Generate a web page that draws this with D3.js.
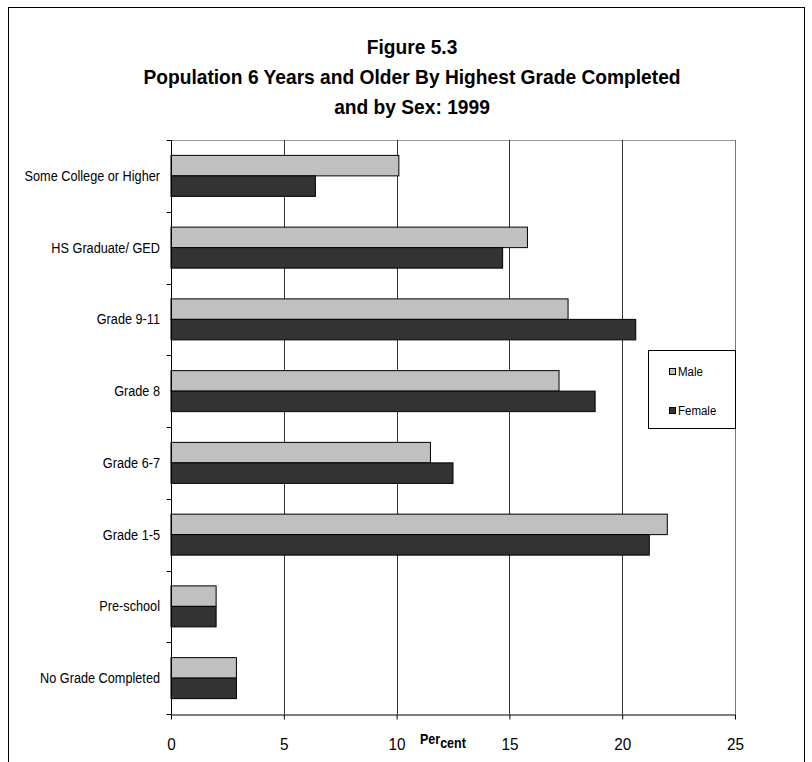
<!DOCTYPE html>
<html>
<head>
<meta charset="utf-8">
<script src="https://cdn.jsdelivr.net/npm/d3@7"></script>
<style>
  html, body { margin: 0; padding: 0; background: #fff; }
  svg { display: block; }
  text { font-family: "Liberation Sans", Arial, sans-serif; fill: #000; }
</style>
</head>
<body>
<svg id="chart" width="812" height="762"></svg>
<script>
const categories = ["Some College or Higher", "HS Graduate/ GED", "Grade 9-11", "Grade 8",
                    "Grade 6-7", "Grade 1-5", "Pre-school", "No Grade Completed"];
const series = ["Male", "Female"];
const maleValues   = [10.1, 15.8, 17.6, 17.2, 11.5, 22.0, 2.0, 2.9];
const femaleValues = [6.4, 14.7, 20.6, 18.8, 12.5, 21.2, 2.0, 2.9];
const xTicks = [0, 5, 10, 15, 20, 25];
const titleLines = ["Figure 5.3", "Population 6 Years and Older By Highest Grade Completed", "and by Sex: 1999"];
const colors = { Male: "#c0c0c0", Female: "#333333" };

const data = categories.map((c, i) => ({ cat: c, Male: maleValues[i], Female: femaleValues[i] }));

const svg = d3.select("#chart");
const pLeft = 171, pRight = 735, pTop = 140, pBottom = 714;
const stretch = 1.1;

const x = d3.scaleLinear().domain([0, 25]).range([pLeft, pRight]);
const y = d3.scaleBand().domain(categories).range([pTop, pBottom]).padding(0);
const ys = d3.scaleBand().domain(series).range([0, y.bandwidth()]).paddingInner(0).paddingOuter(0.75);

// outer frame
svg.append("rect").attr("x", 8.5).attr("y", 7.5).attr("width", 796).attr("height", 820)
  .attr("fill", "none").attr("stroke", "#000").attr("stroke-width", 1);

// title
svg.append("g").selectAll("text").data(titleLines).join("text")
  .attr("transform", (d, i) => `translate(412,${54 + i * 30}) scale(1,1.07)`)
  .attr("text-anchor", "middle").attr("font-weight", "bold").attr("font-size", 19.2)
  .text(d => d);

// plot border top
svg.append("line").attr("x1", pLeft).attr("x2", pRight).attr("y1", pTop + 0.5).attr("y2", pTop + 0.5)
  .attr("stroke", "#999");
// gridlines
svg.append("g").selectAll("line").data(xTicks.filter(t => t > 0)).join("line")
  .attr("x1", d => Math.round(x(d)) + 0.5).attr("x2", d => Math.round(x(d)) + 0.5)
  .attr("y1", pTop).attr("y2", pBottom)
  .attr("stroke", d => d === 25 ? "#777" : "#333").attr("stroke-width", 1);

// bars
const groups = svg.append("g").selectAll("g").data(data).join("g")
  .attr("transform", d => `translate(0,${y(d.cat)})`);
groups.selectAll("rect").data(d => series.map(s => ({ s, v: d[s] }))).join("rect")
  .attr("x", x(0))
  .attr("y", d => ys(d.s))
  .attr("width", d => x(d.v) - x(0))
  .attr("height", ys.bandwidth())
  .attr("fill", d => colors[d.s])
  .attr("stroke", "#000").attr("stroke-width", 1);

// y axis
const yAxisG = svg.append("g").attr("transform", `translate(${pLeft + 0.5},0)`);
yAxisG.append("line").attr("x1", 0).attr("x2", 0).attr("y1", pTop).attr("y2", pBottom).attr("stroke", "#000");
const bounds = categories.map(c => y(c)).concat([pBottom]);
yAxisG.selectAll("line.tk").data(bounds).join("line").attr("class", "tk")
  .attr("x1", -5).attr("x2", 0).attr("y1", d => Math.round(d) + 0.5).attr("y2", d => Math.round(d) + 0.5)
  .attr("stroke", "#000");
svg.append("g").selectAll("text").data(categories).join("text")
  .attr("transform", d => `translate(160,${y(d) + y.bandwidth() / 2}) scale(1,${stretch})`)
  .attr("dy", "0.35em").attr("text-anchor", "end").attr("font-size", 12.7)
  .text(d => d);

// x axis
const xAxis = d3.axisBottom(x).tickValues(xTicks).tickSize(5).tickSizeOuter(0);
const xg = svg.append("g").attr("transform", `translate(0,${pBottom + 0.5})`).call(xAxis);
xg.select(".domain").attr("stroke", "#000");
xg.selectAll(".tick line").attr("stroke", "#000");
xg.selectAll(".tick text")
  .attr("y", null).attr("dy", null)
  .attr("transform", `translate(0,35) scale(1,${stretch})`)
  .attr("font-size", 15.3).attr("font-family", "Liberation Sans, Arial, sans-serif").attr("fill", "#000");

// x axis title
const xt = svg.append("text").attr("transform", `translate(420,744) scale(1,${stretch})`)
  .attr("font-weight", "bold").attr("font-size", 12.5);
xt.append("tspan").text("Per");
xt.append("tspan").attr("dy", 3.5).text("cent");

// legend
const lg = svg.append("g");
lg.append("rect").attr("x", 648.5).attr("y", 350.5).attr("width", 87).attr("height", 78)
  .attr("fill", "#fff").attr("stroke", "#000");
const li = lg.selectAll("g").data(series).join("g")
  .attr("transform", (d, i) => `translate(669,${368 + i * 39})`);
li.append("rect").attr("x", 0.5).attr("y", 0.5).attr("width", 6).attr("height", 6)
  .attr("fill", d => colors[d]).attr("stroke", "#000");
li.append("text").attr("transform", "translate(9,4) scale(1,1.05)").attr("dy", "0.35em")
  .attr("font-size", 11.5).text(d => d);
</script>
</body>
</html>
